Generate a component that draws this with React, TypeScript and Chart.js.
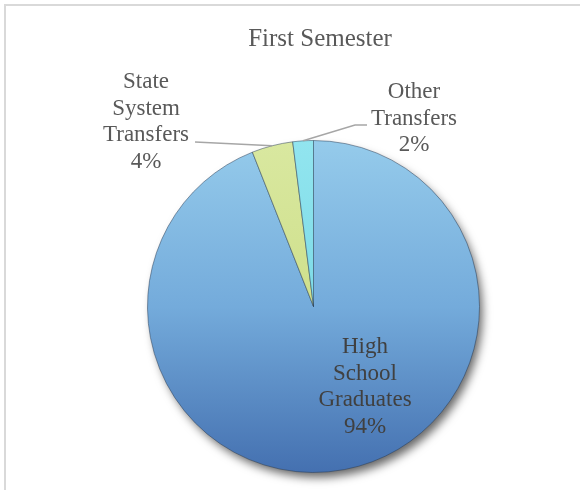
import React, { useEffect, useRef } from "react";
import { Chart, registerables } from "chart.js";

Chart.register(...registerables);

const chartTitle = "First Semester";
const categories = ["High School Graduates", "State System Transfers", "Other Transfers"];
const labelLines = [
  ["High", "School", "Graduates"],
  ["State", "System", "Transfers"],
  ["Other", "Transfers"],
];
const values = [94, 4, 2];

// colours: [top, middle, bottom] of a vertical gradient for each slice
const sliceColors = [
  ["#95cbeb", "#74abdb", "#4470b0"],
  ["#d9e8a0", "#cfe08c", "#bcd175"],
  ["#92e5ef", "#7ddbe7", "#5fcad8"],
];

// label placement relative to the pie centre (positions only)
const labelPlacement = [
  { dx: 51.5, dy: 46.5, color: "#404040", leader: null as null | number[][] },
  { dx: -167.5, dy: -218.5, color: "#595959", leader: [[-118.5, -164.5]] },
  { dx: 100.5, dy: -208.5, color: "#595959", leader: [[41.5, -181.5], [53.5, -181.5]] },
];

const SERIF = "'Liberation Serif', 'Times New Roman', serif";

const decorPlugin = {
  id: "pieDecor",
  beforeDatasetsDraw(chart: any) {
    const ctx = chart.ctx;
    const arc = chart.getDatasetMeta(0).data[0];
    if (!arc) return;
    const { x, y, outerRadius } = arc.getProps(["x", "y", "outerRadius"], true);
    ctx.save();
    ctx.shadowColor = "rgba(0,0,0,0.6)";
    ctx.shadowBlur = 10;
    ctx.shadowOffsetX = 4;
    ctx.shadowOffsetY = 6;
    ctx.fillStyle = "#ffffff";
    ctx.beginPath();
    ctx.arc(x, y, outerRadius - 1, 0, Math.PI * 2);
    ctx.fill();
    ctx.restore();
  },
  afterDatasetsDraw(chart: any) {
    const ctx = chart.ctx;
    const meta = chart.getDatasetMeta(0);
    const total = values.reduce((a, b) => a + b, 0);
    const first = meta.data[0];
    if (!first) return;
    const { x: cx, y: cy } = first.getProps(["x", "y"], true);

    // title
    ctx.save();
    ctx.font = `25px ${SERIF}`;
    ctx.fillStyle = "#595959";
    ctx.textAlign = "center";
    ctx.textBaseline = "alphabetic";
    ctx.fillText(chartTitle, cx + 6.5, cy - 260.5);
    ctx.restore();

    meta.data.forEach((arc: any, i: number) => {
      const p = arc.getProps(["x", "y", "startAngle", "endAngle", "outerRadius"], true);
      const mid = (p.startAngle + p.endAngle) / 2;
      const place = labelPlacement[i];
      if (place.leader) {
        ctx.save();
        ctx.strokeStyle = "#a6a6a6";
        ctx.lineWidth = 1.5;
        ctx.beginPath();
        ctx.moveTo(p.x + Math.cos(mid) * p.outerRadius, p.y + Math.sin(mid) * p.outerRadius);
        place.leader.forEach((pt) => ctx.lineTo(cx + pt[0], cy + pt[1]));
        ctx.stroke();
        ctx.restore();
      }
      const lines = [...labelLines[i], Math.round((values[i] / total) * 100) + "%"];
      ctx.save();
      ctx.font = `23px ${SERIF}`;
      ctx.fillStyle = place.color;
      ctx.textAlign = "center";
      ctx.textBaseline = "alphabetic";
      lines.forEach((ln, k) => {
        ctx.fillText(ln, cx + place.dx, cy + place.dy + k * 26.7);
      });
      ctx.restore();
    });
  },
};

export default function App() {
  const canvasRef = useRef<HTMLCanvasElement | null>(null);

  useEffect(() => {
    if (!canvasRef.current) return;
    const chart = new Chart(canvasRef.current, {
      type: "pie",
      data: {
        labels: categories,
        datasets: [
          {
            data: values,
            backgroundColor: (c: any) => {
              const cols = sliceColors[c.dataIndex % sliceColors.length];
              const area = c.chart.chartArea;
              if (!area) return cols[1];
              const g = c.chart.ctx.createLinearGradient(0, area.top, 0, area.bottom);
              g.addColorStop(0, cols[0]);
              g.addColorStop(0.5, cols[1]);
              g.addColorStop(1, cols[2]);
              return g;
            },
            borderColor: "rgba(40,60,85,0.5)",
            borderWidth: 1,
          },
        ],
      },
      options: {
        responsive: false,
        animation: false,
        layout: { padding: { left: 147, right: 100, top: 140, bottom: 17 } },
        plugins: {
          legend: { display: false },
          tooltip: { enabled: false },
          title: { display: false },
        },
      },
      plugins: [decorPlugin],
    });
    return () => chart.destroy();
  }, []);

  return (
    <div
      style={{
        position: "fixed",
        left: 0,
        top: 0,
        width: 580,
        height: 490,
        overflow: "hidden",
        background: "#ffffff",
      }}
    >
      <div
        style={{
          position: "absolute",
          left: 4,
          top: 4,
          width: 620,
          height: 540,
          border: "2px solid #d9d9d9",
        }}
      />
      <canvas
        ref={canvasRef}
        width={580}
        height={490}
        style={{ position: "absolute", left: 0, top: 0, width: 580, height: 490 }}
      />
    </div>
  );
}
